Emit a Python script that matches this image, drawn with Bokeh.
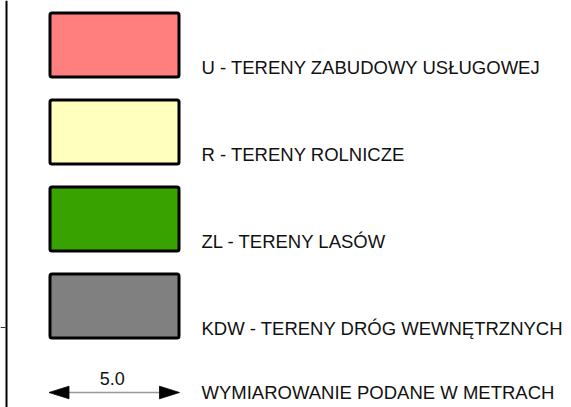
from bokeh.plotting import figure
from bokeh.models import Range1d
from bokeh.core.properties import value
from bokeh.embed import file_html
from bokeh.resources import INLINE

# ---- data ----
labels = [
    "U - TERENY ZABUDOWY USŁUGOWEJ",
    "R - TERENY ROLNICZE",
    "ZL - TERENY LASÓW",
    "KDW - TERENY DRÓG WEWNĘTRZNYCH",
]
fill_colors = ["#FF7F7F", "#FFFFBE", "#38A300", "#808080"]
dimension_value = 5.0
dimension_note = "WYMIAROWANIE PODANE W METRACH"

# ---- layout (pixel-like units) ----
W, H = 571, 407
FONT = value("Liberation Sans")

p = figure(width=W, height=H, output_backend="svg", toolbar_location=None,
           x_range=Range1d(0, W), y_range=Range1d(H, 0),
           min_border=0, outline_line_color=None, background_fill_color="white")
p.axis.visible = False
p.grid.visible = False

sw_left, sw_right = 49.5, 178.5
top0, sw_h, step = 12.5, 64.0, 87.0
text_x = 201

n = len(labels)
lefts = [sw_left] * n
rights = [sw_right] * n
tops = [top0 + i * step for i in range(n)]
bottoms = [t + sw_h for t in tops]
p.quad(left=lefts, right=rights, top=tops, bottom=bottoms,
       fill_color=fill_colors, line_color="black", line_width=3,
       border_radius=2)

text_y = [t + sw_h / 2 + 22 for t in tops]
p.text(x=[text_x] * n, y=text_y, text=labels, text_font=FONT,
       text_font_size="18.5px", text_baseline="middle", text_align="left",
       text_color="#111111")

# dimension arrow
ay = tops[-1] + step + 31.5
x0, x1 = 48.5, 179
hl, hw = 20, 6.3
p.line(x=[x0 + hl - 2, x1 - hl + 2], y=[ay, ay], line_color="#999999", line_width=1.3)
p.patches(xs=[[x0, x0 + hl, x0 + hl], [x1, x1 - hl, x1 - hl]],
          ys=[[ay, ay - hw, ay + hw], [ay, ay - hw, ay + hw]],
          fill_color="black", line_color="black", line_width=0.8)
p.text(x=[(x0 + x1) / 2 - 2], y=[ay - 7.5], text=[f"{dimension_value:.1f}"], text_font=FONT,
       text_font_size="18px", text_baseline="bottom", text_align="center",
       text_color="#111111")
p.text(x=[text_x], y=[ay], text=[dimension_note], text_font=FONT,
       text_font_size="18.5px", text_baseline="middle", text_align="left",
       text_color="#111111")

# frame line at left and small tick
p.line(x=[6, 6], y=[0, H], line_color="black", line_width=2)
p.line(x=[0, 5], y=[327, 327], line_color="#333333", line_width=1)

open("out.html", "w").write(file_html(p, INLINE))
